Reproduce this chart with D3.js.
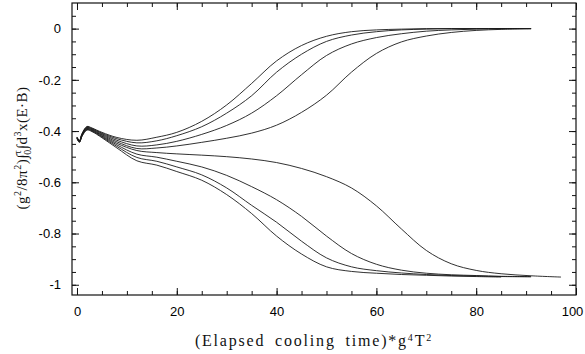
<!DOCTYPE html>
<html>
<head>
<meta charset="utf-8">
<script src="https://cdn.jsdelivr.net/npm/d3@7"></script>
<style>
  html, body { margin: 0; padding: 0; background: #fff; }
  svg { display: block; }
  .tick text { font-family: "Liberation Sans", Arial, sans-serif; font-size: 13px; fill: #000; }
  .title { font-family: "Liberation Serif", "Times New Roman", serif; font-size: 15px; fill: #111; }
</style>
</head>
<body>
<div id="chart"></div>
<script>
// elapsed cooling time (x), shared by every run
var times = [0, 0.5, 1, 2, 3, 5, 8, 12, 16, 20, 25, 30, 35, 40, 45, 50, 55, 60, 65, 70, 75, 80, 85, 91, 97];

// runs that relax up to 0
var up1 = [-0.423,-0.437,-0.410,-0.382,-0.388,-0.405,-0.425,-0.436,-0.424,-0.405,-0.362,-0.298,-0.214,-0.126,-0.066,-0.030,-0.012,-0.005,-0.002,0,0,0,0,0,null];
var up2 = [-0.424,-0.438,-0.412,-0.384,-0.390,-0.408,-0.430,-0.446,-0.438,-0.418,-0.383,-0.330,-0.262,-0.170,-0.100,-0.050,-0.025,-0.012,-0.005,-0.002,0,0,0,0,null];
var up3 = [-0.425,-0.439,-0.413,-0.386,-0.392,-0.411,-0.436,-0.458,-0.454,-0.440,-0.413,-0.378,-0.330,-0.262,-0.180,-0.105,-0.060,-0.035,-0.020,-0.010,-0.005,-0.002,0,0,null];
var up4 = [-0.426,-0.440,-0.415,-0.388,-0.394,-0.414,-0.442,-0.468,-0.466,-0.458,-0.444,-0.428,-0.408,-0.377,-0.327,-0.260,-0.170,-0.097,-0.052,-0.029,-0.015,-0.007,-0.003,0,null];

// runs that relax down to about -1
var down1 = [-0.427,-0.441,-0.416,-0.390,-0.396,-0.417,-0.448,-0.476,-0.484,-0.489,-0.494,-0.500,-0.509,-0.523,-0.546,-0.578,-0.622,-0.692,-0.782,-0.866,-0.918,-0.944,-0.957,-0.965,-0.970];
var down2 = [-0.428,-0.442,-0.418,-0.392,-0.398,-0.420,-0.454,-0.490,-0.502,-0.518,-0.540,-0.573,-0.617,-0.668,-0.733,-0.810,-0.878,-0.920,-0.943,-0.955,-0.961,-0.964,-0.967,-0.968,null];
var down3 = [-0.429,-0.443,-0.419,-0.394,-0.400,-0.423,-0.460,-0.503,-0.518,-0.540,-0.571,-0.622,-0.690,-0.756,-0.830,-0.895,-0.930,-0.945,-0.954,-0.960,-0.964,-0.966,-0.968,-0.969,null];
var down4 = [-0.430,-0.444,-0.421,-0.396,-0.402,-0.426,-0.466,-0.516,-0.533,-0.558,-0.592,-0.648,-0.722,-0.810,-0.880,-0.930,-0.948,-0.955,-0.960,-0.963,-0.966,-0.968,-0.970,null,null];

var xTicks = [0, 20, 40, 60, 80, 100];
var xMinorTicks = d3.range(0, 101, 5);
var yTicks = [0, -0.2, -0.4, -0.6, -0.8, -1];
var yTickLabels = ['0', '-0.2', '-0.4', '-0.6', '-0.8', '-1'];
var yMinorTicks = d3.range(0.05, -1.01, -0.05);

;(function (window, document, undefined) {

  'use strict';

  var width = 585, height = 354;
  var left = 72, right = 576, top = 3, bottom = 295;

  var svg = d3.select('#chart').append('svg')
    .attr('width', width)
    .attr('height', height);

  var x = d3.scaleLinear().domain([-1, 100]).range([left, right]);
  var y = d3.scaleLinear().domain([-1.04, 0.1]).range([bottom, top]);

  var runs = [up1, up2, up3, up4, down1, down2, down3, down4];

  var line = d3.line()
    .defined(function (d) { return d[1] !== null; })
    .x(function (d) { return x(d[0]); })
    .y(function (d) { return y(d[1]); })
    .curve(d3.curveCatmullRom.alpha(0.5));

  svg.append('g')
    .selectAll('path')
    .data(runs)
    .enter().append('path')
      .attr('d', function (vals) {
        return line(vals.map(function (v, i) { return [times[i], v]; }));
      })
      .attr('fill', 'none')
      .attr('stroke', '#1a1a1a')
      .attr('stroke-width', 0.9);

  var _axis = function (gen, transform, values, size, fmt) {
    var g = svg.append('g')
      .attr('transform', transform)
      .call(gen.tickValues(values).tickSize(size).tickSizeOuter(0).tickFormat(fmt));
    g.select('.domain').remove();
    g.selectAll('.tick line').attr('stroke', '#111').attr('stroke-width', 1);
    return g;
  };

  var none = function () { return ''; };
  var yFmt = function (d) { return yTickLabels[yTicks.indexOf(d)]; };

  // bottom / top
  var bx = _axis(d3.axisBottom(x), 'translate(0,' + bottom + ')', xTicks, -7, d3.format('d'));
  bx.selectAll('.tick text').attr('y', 12).attr('dy', '0.71em');
  // last label sits against the page edge, as in the original
  bx.selectAll('.tick text').filter(function (d) { return d === 100; }).attr('dx', -4);
  _axis(d3.axisBottom(x), 'translate(0,' + bottom + ')', xMinorTicks, -4, none);
  _axis(d3.axisTop(x), 'translate(0,' + top + ')', xTicks, -7, none);
  _axis(d3.axisTop(x), 'translate(0,' + top + ')', xMinorTicks, -4, none);

  // left / right
  var ly = _axis(d3.axisLeft(y), 'translate(' + left + ',0)', yTicks, -7, yFmt);
  ly.selectAll('.tick text').attr('x', -11);
  _axis(d3.axisLeft(y), 'translate(' + left + ',0)', yMinorTicks, -4, none);
  _axis(d3.axisRight(y), 'translate(' + right + ',0)', yTicks, -7, none);
  _axis(d3.axisRight(y), 'translate(' + right + ',0)', yMinorTicks, -4, none);

  svg.append('rect')
    .attr('x', left).attr('y', top)
    .attr('width', right - left).attr('height', bottom - top)
    .attr('fill', 'none')
    .attr('stroke', '#111')
    .attr('stroke-width', 1.2);

  // x title
  var xt = svg.append('text')
    .attr('class', 'title')
    .attr('x', 314).attr('y', 346)
    .attr('text-anchor', 'middle')
    .style('font-size', '16px')
    .style('letter-spacing', '1.8px')
    .style('word-spacing', '4px');
  xt.append('tspan').text('(Elapsed cooling time)*g');
  xt.append('tspan').attr('dy', -5).style('font-size', '10px').text('4');
  xt.append('tspan').attr('dy', 5).text('T');
  xt.append('tspan').attr('dy', -5).style('font-size', '10px').text('2');

  // y title
  var yt = svg.append('text')
    .attr('class', 'title')
    .attr('transform', 'translate(27,148) rotate(-90)')
    .attr('text-anchor', 'middle')
    .style('letter-spacing', '0.5px');
  yt.append('tspan').text('(g');
  yt.append('tspan').attr('dy', -6).style('font-size', '10px').text('2');
  yt.append('tspan').attr('dy', 6).text('/8π');
  yt.append('tspan').attr('dy', -6).style('font-size', '10px').text('2');
  yt.append('tspan').attr('dy', 6).text(')∫');
  yt.append('tspan').attr('dy', -6).style('font-size', '10px').text('τ');
  yt.append('tspan').attr('dx', -5).attr('dy', 10).style('font-size', '10px').text('0');
  yt.append('tspan').attr('dy', -4).text('∫d');
  yt.append('tspan').attr('dy', -6).style('font-size', '10px').text('3');
  yt.append('tspan').attr('dy', 6).text('x(E·B)');

})(window, document);
</script>
</body>
</html>
